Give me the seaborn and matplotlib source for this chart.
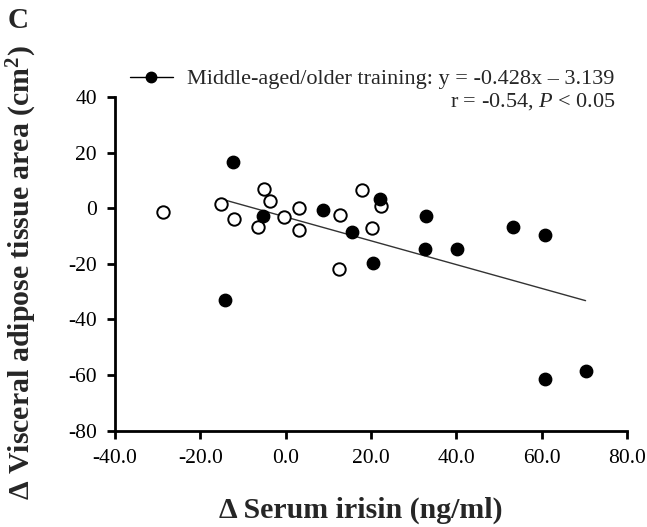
import numpy as np
import pandas as pd
import matplotlib
matplotlib.use("Agg")
import matplotlib.pyplot as plt
import seaborn as sns
from matplotlib.lines import Line2D

# ---- data ----
older_x = [-14.3, -12.3, -5.4, 8.7, 15.6, 20.5, 22.2, 33.0, 32.7, 40.1, 53.2, 60.9, 60.7, 70.3]
older_y = [-33.0, 16.5, -2.7, -0.7, -8.5, -19.7, 3.5, -2.8, -14.7, -14.7, -6.7, -9.7, -61.4, -58.5]
young_x = [-28.7, -15.2, -12.1, -5.1, -3.7, -6.5, -0.3, 3.2, 3.2, 12.7, 12.5, 17.8, 20.3, 22.3]
young_y = [-1.5, 1.5, -3.9, 7.1, 2.6, -6.6, -3.3, 0.2, -7.8, -2.3, -21.7, 6.6, -7.1, 0.9]
slope = -0.428
intercept = -3.139
x_ticks = [-40, -20, 0, 20, 40, 60, 80]
x_ticklabels = ["-40.0", "-20.0", "0.0", "20.0", "40.0", "60.0", "80.0"]
y_ticks = [-80, -60, -40, -20, 0, 20, 40]
y_ticklabels = ["-80", "-60", "-40", "-20", "0", "20", "40"]
legend_label = "Middle-aged/older training: y = -0.428x \u2013 3.139"
stats_label = r"r = -0.54, $\mathit{P}$ < 0.05"

sns.set_style("ticks")
plt.rcParams["font.family"] = ["Liberation Serif", "DejaVu Serif"]
plt.rcParams["mathtext.fontset"] = "custom"
plt.rcParams["mathtext.rm"] = "Liberation Serif"
plt.rcParams["mathtext.it"] = "Liberation Serif:italic"
plt.rcParams["mathtext.bf"] = "Liberation Serif:bold"

fig = plt.figure(figsize=(6.47, 5.27), dpi=100)
ax = fig.add_axes([0.1777, 0.1827, 0.7913, 0.6332])

df_old = pd.DataFrame({"x": older_x, "y": older_y})
df_young = pd.DataFrame({"x": young_x, "y": young_y})

# regression line for the middle-aged/older group
lx = np.array([min(older_x), max(older_x)])
df_line = pd.DataFrame({"x": lx, "y": slope * lx + intercept})
sns.lineplot(data=df_line, x="x", y="y", ax=ax, color="#333333", linewidth=1.0, zorder=1)

sns.scatterplot(data=df_young, x="x", y="y", ax=ax, s=80, facecolor="white",
                edgecolor="black", linewidth=1.4, zorder=3)
sns.scatterplot(data=df_old, x="x", y="y", ax=ax, s=80, color="black",
                edgecolor="black", linewidth=1.0, zorder=4)

ax.set_xlim(-40, 80)
ax.set_ylim(-80, 40)
ax.set_xticks(x_ticks)
ax.set_xticklabels(x_ticklabels)
ax.set_yticks(y_ticks)
ax.set_yticklabels(y_ticklabels)
ax.tick_params(axis="both", labelsize=15.5, width=2, length=6, color="black",
               labelcolor="black", pad=7)
for sp in ["top", "right"]:
    ax.spines[sp].set_visible(False)
for sp in ["left", "bottom"]:
    ax.spines[sp].set_linewidth(2)
    ax.spines[sp].set_color("black")

ax.set_xlabel("\u0394 Serum irisin (ng/ml)", fontsize=21.5, fontweight="bold")
ax.set_ylabel("\u0394 Visceral adipose tissue area (cm$^\\mathbf{2}$)", fontsize=21.5,
              fontweight="bold")
ax.xaxis.set_label_coords(0.481, -0.197)
ax.yaxis.set_label_coords(-0.149, 0.474)

handle = Line2D([0], [0], color="black", linewidth=1.0, marker="o", markersize=7.5,
                markerfacecolor="black", markeredgecolor="black")
leg = fig.legend([handle], [legend_label], loc="center left",
                 bbox_to_anchor=(130 / 647, 1 - 79 / 527), frameon=False, fontsize=16,
                 handlelength=1.93, handletextpad=0.63, borderpad=0, borderaxespad=0)
fig.text(616 / 647, 1 - 107 / 527, stats_label, ha="right", va="baseline", fontsize=16)

fig.text(8 / 647, 1 - 7 / 527, "C", fontsize=21, fontweight="bold", ha="left", va="top")

fig.savefig("out.png", dpi=100)
